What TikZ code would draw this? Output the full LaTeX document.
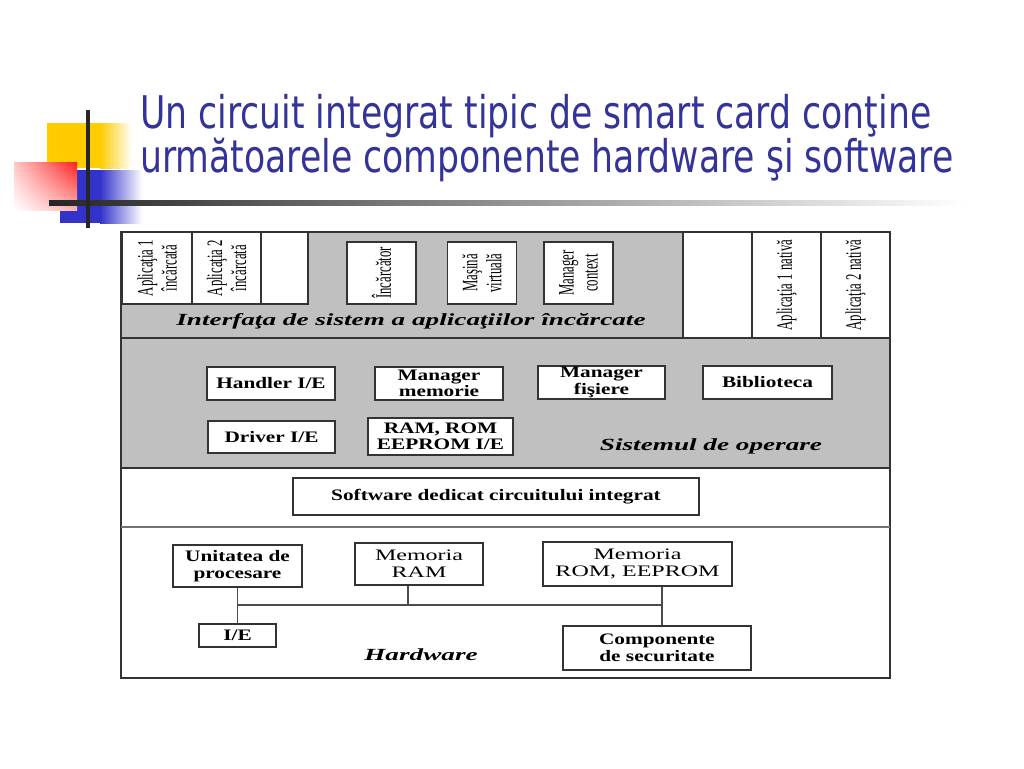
\documentclass[tikz,border=0pt]{standalone}
\usepackage{fontspec}
\setmainfont{Liberation Serif}
\newfontfamily\titlefont[FakeStretch=0.77]{DejaVu Sans}
\newfontfamily\boxfont[FakeStretch=1.33]{Liberation Serif}
\newfontfamily\hwfont[FakeStretch=1.5]{Liberation Serif}
\newfontfamily\colfont[FakeStretch=0.58]{Liberation Serif}
\newfontfamily\labfont[FakeStretch=1.6]{Liberation Serif}
\usepackage{xcolor}
\usepackage{tikz}
\usetikzlibrary{shadings}
\definecolor{ttlblue}{HTML}{333399}
\definecolor{osgray}{HTML}{C0C0C0}
\definecolor{dekyellow}{HTML}{FFCC00}
\definecolor{dekblue}{HTML}{3333CC}
\definecolor{dekred}{HTML}{FF2020}

\begin{document}
\begin{tikzpicture}[x=1pt,y=-1pt]
  \tikzstyle{box}=[draw=black!80,line width=1.3pt,fill=white,inner sep=0pt,align=center,font=\boxfont\bfseries\fontsize{16}{16.5}\selectfont]
  \tikzstyle{hbox}=[box,font=\hwfont\fontsize{16}{17}\selectfont]
  \tikzstyle{col}=[draw=black!80,line width=1.3pt,fill=white,inner sep=0pt,rotate=90,align=center,font=\colfont\fontsize{22}{24}\selectfont]
  \tikzstyle{lab}=[anchor=base,inner sep=0pt,font=\labfont\bfseries\itshape\fontsize{17}{20}\selectfont]
  \tikzstyle{frame}=[draw=black!80,line width=2pt]
  \tikzstyle{wire}=[draw=black!70,line width=1.3pt]
  \useasboundingbox (0,0) rectangle (1024,768);
  % title decoration
  \fill[dekyellow] (47,123) rectangle (100,168);
  \shade[left color=dekyellow,right color=white] (100,123) rectangle (132,168);
  \fill[dekblue] (60,170) rectangle (100,223);
  \shade[left color=dekblue,right color=white] (100,170) rectangle (142,223);
  \shade[upper right=dekred,lower left=white,upper left=dekred!25,lower right=dekred!35] (14,162) rectangle (77,210);
  \shade[left color=black!85,right color=white] (49,200) rectangle (965,205);
  \fill[black!85] (85.5,110) rectangle (89.5,228);
  % title
  \node[anchor=base west,inner sep=0pt,text=ttlblue,font=\titlefont\fontsize{45}{54}\selectfont] (ttl1) at (140,128) {Un circuit integrat tipic de smart card conţine};
  \node[anchor=base west,inner sep=0pt,text=ttlblue,font=\titlefont\fontsize{45}{54}\selectfont] (ttl2) at (140,172) {următoarele componente hardware şi software};
  % gray layers
  \fill[osgray] (308,232) -- (683,232) -- (683,338) -- (121,338) -- (121,304) -- (308,304) -- cycle;
  \fill[osgray] (121,338) rectangle (890,468);
  % applications
  \node[col,minimum width=72pt,minimum height=70pt] (app1) at (157,268) {Aplicaţia 1\\încărcată};
  \node[col,minimum width=72pt,minimum height=69pt] (app2) at (226.5,268) {Aplicaţia 2\\încărcată};
  \node[col,minimum width=72pt,minimum height=47pt] (free1) at (284.5,268) {};
  \node[col,minimum width=106pt,minimum height=69pt] (free2) at (717.5,285) {};
  \node[col,minimum width=106pt,minimum height=69pt] (nat1) at (786.5,285) {Aplicaţia 1 nativă};
  \node[col,minimum width=106pt,minimum height=69pt] (nat2) at (855.5,285) {Aplicaţia 2 nativă};
  \node[col,minimum width=62pt,minimum height=69pt] (loader) at (381.5,273) {Încărcător};
  \node[col,minimum width=62pt,minimum height=69pt] (vm) at (482,273) {Maşină\\virtuală};
  \node[col,minimum width=62pt,minimum height=69pt] (ctxmgr) at (578.5,273) {Manager\\context};
  % frame and layer borders
  \draw[frame] (121,232) rectangle (890,678);
  \draw[frame] (121,338) -- (890,338);
  \draw[frame] (121,468) -- (890,468);
  \draw[frame,draw=black!55,line width=1.5pt] (121,527) -- (890,527);
  \draw[frame] (308,232) -- (308,304) -- (121,304);
  \draw[frame] (683,232) -- (683,338);
  \node[lab] (ifacelab) at (411,325) {Interfaţa de sistem a aplicaţiilor încărcate};
  % operating system
  \node[box,minimum width=128pt,minimum height=33pt] (handler) at (271,383.5) {Handler I/E};
  \node[box,minimum width=128pt,minimum height=33pt] (memmgr) at (439,383.5) {Manager\\memorie};
  \node[box,minimum width=127pt,minimum height=33pt] (filemgr) at (601.5,382.5) {Manager\\fişiere};
  \node[box,minimum width=129pt,minimum height=33pt] (lib) at (767.5,382.5) {Biblioteca};
  \node[box,minimum width=127pt,minimum height=32pt] (driver) at (271.5,437) {Driver I/E};
  \node[box,minimum width=145pt,minimum height=37pt] (ramrom) at (440.5,436.5) {RAM, ROM\\EEPROM I/E};
  \node[lab] (oslab) at (711,450) {Sistemul de operare};
  % chip software
  \node[box,minimum width=406pt,minimum height=37pt] (chipsw) at (496,496.5) {Software dedicat circuitului integrat};
  % hardware
  \node[box,minimum width=129pt,minimum height=42pt] (cpu) at (237.5,566) {Unitatea de\\procesare};
  \node[hbox,minimum width=128pt,minimum height=42pt] (ram) at (419,564) {Memoria\\RAM};
  \node[hbox,minimum width=189pt,minimum height=44pt] (rom) at (637.5,564) {Memoria\\ROM, EEPROM};
  \node[box,minimum width=77pt,minimum height=23pt] (io) at (237.5,635.5) {I/E};
  \node[box,minimum width=188pt,minimum height=44pt] (sec) at (657,648) {Componente\\de securitate};
  \node[lab] (hwlab) at (421,660) {Hardware};
  % bus
  \coordinate (bus) at (0,605);
  \draw[wire] (cpu.south) -- (io.north);
  \draw[wire] (cpu.south |- bus) -- ([xshift=5pt]sec.north |- bus);
  \draw[wire] ([xshift=-11pt]ram.south) -- ([xshift=-11pt]ram.south |- bus);
  \draw[wire] ([xshift=5pt]sec.north) -- ([xshift=5pt]sec.north |- rom.south);
\end{tikzpicture}
\end{document}
